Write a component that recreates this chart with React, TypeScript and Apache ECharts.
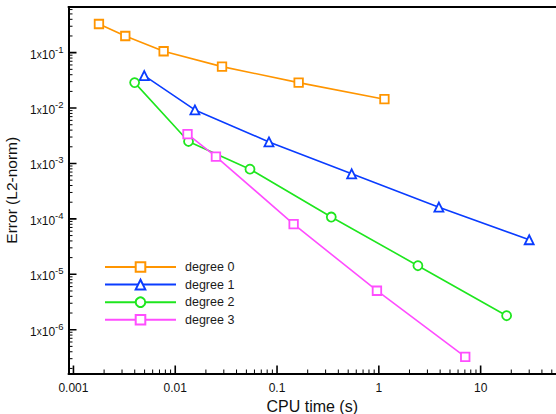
import React, { useEffect, useRef } from "react";
import * as echarts from "echarts";

// CPU time (s) and L2 error for each polynomial degree
const cpuDeg0 = [0.00178, 0.00323, 0.00769, 0.0288, 0.163, 1.135];
const errDeg0 = [0.329, 0.2, 0.106, 0.056, 0.0288, 0.01445];
const cpuDeg1 = [0.00496, 0.0156, 0.0833, 0.541, 3.89, 30.0];
const errDeg1 = [0.0385, 0.00927, 0.00245, 0.00065, 0.000163, 4.2e-5];
const cpuDeg2 = [0.00399, 0.0135, 0.0542, 0.341, 2.42, 18.0];
const errDeg2 = [0.0288, 0.0025, 0.00079, 0.000108, 1.43e-5, 1.79e-6];
const cpuDeg3 = [0.0132, 0.0251, 0.1455, 0.958, 7.06];
const errDeg3 = [0.00338, 0.00133, 8.05e-5, 5.05e-6, 3.22e-7];

const seriesNames = ["degree 0", "degree 1", "degree 2", "degree 3"];
const seriesColors = ["#ff9500", "#0a3cff", "#1ee61e", "#ff4dff"];
const seriesSymbols = ["rect", "triangle", "circle", "rect"];

// axis extents (decimal values)
const xMin = 0.000894;
const xMax = 55;
const yMin = 1.62e-7;
const yMax = 0.667;

const xTickValues = [0.001, 0.01, 0.1, 1, 10];
const xTickLabels = ["0.001", "0.01", "0.1", "1", "10"];
const yTickExponents = [-6, -5, -4, -3, -2, -1];

const lg = (v: number) => Math.log10(v);

function minorLogs(minV: number, maxV: number): number[] {
  const out: number[] = [];
  const lo = Math.floor(lg(minV)) - 1;
  const hi = Math.ceil(lg(maxV)) + 1;
  for (let k = lo; k <= hi; k++) {
    for (let m = 2; m <= 9; m++) {
      const l = Math.log10(m) + k;
      if (l > lg(minV) + 0.005 && l < lg(maxV) - 0.005) out.push(l);
    }
  }
  return out;
}

const GRID = { left: 68.5, right: 0, top: 7, bottom: 40.5 };
const W = 556;
const H = 414;

export default function App() {
  const ref = useRef<HTMLDivElement>(null);
  useEffect(() => {
    if (!ref.current) return;
    const chart = echarts.init(ref.current, null, { renderer: "svg" });
    const cpus = [cpuDeg0, cpuDeg1, cpuDeg2, cpuDeg3];
    const errs = [errDeg0, errDeg1, errDeg2, errDeg3];
    const font = "Liberation Sans, Arial, Helvetica, sans-serif";
    const xl = [lg(xMin), lg(xMax)];
    const yl = [lg(yMin), lg(yMax)];
    const xLabelMap: Record<string, string> = {};
    xTickValues.forEach((v, i) => (xLabelMap[lg(v).toFixed(3)] = xTickLabels[i]));
    const axisLineStyle = { color: "#000", width: 2 };

    // tick lengths (px) converted to data units of each axis
    const plotW = W - GRID.left - GRID.right;
    const plotH = H - GRID.top - GRID.bottom;
    const xPerPx = (xl[1] - xl[0]) / plotW;
    const yPerPx = (yl[1] - yl[0]) / plotH;
    const MAJOR = 8;
    const MINOR = 4;

    const xTickSegs = (vals: number[], len: number) => {
      const out: any[] = [];
      vals.forEach((v) => {
        out.push([v, yl[0]], [v, yl[0] + len * yPerPx], ["-", "-"]);
      });
      return out;
    };
    const yTickSegs = (vals: number[], len: number) => {
      const out: any[] = [];
      vals.forEach((v) => {
        out.push([xl[0], v], [xl[0] + len * xPerPx, v], ["-", "-"]);
      });
      return out;
    };
    const tickLine = (data: any[], width: number) => ({
      type: "line",
      xAxisIndex: 0,
      yAxisIndex: 0,
      data,
      symbol: "none",
      showSymbol: false,
      connectNulls: false,
      clip: false,
      silent: true,
      lineStyle: { color: "#000", width },
      emphasis: { disabled: true },
      z: 2,
    });

    chart.setOption({
      animation: false,
      grid: {
        ...GRID,
        containLabel: false,
        outerBoundsMode: "none",
      },
      legend: {
        left: 104,
        top: 260.5,
        padding: 0,
        orient: "vertical",
        itemWidth: 71,
        itemHeight: 12,
        itemGap: 4.6,
        data: seriesNames,
        textStyle: { fontFamily: font, fontSize: 12.5, color: "#1a1a1a", padding: [0, 0, 0, 4] },
      },
      xAxis: [
        {
          type: "value",
          min: xl[0],
          max: xl[1],
          position: "bottom",
          name: "CPU time (s)",
          nameLocation: "middle",
          nameGap: 23.5,
          nameTextStyle: { fontFamily: font, fontSize: 16, color: "#111" },
          axisLine: { show: true, onZero: false, lineStyle: axisLineStyle },
          axisTick: { show: false },
          axisLabel: {
            show: true,
            margin: 8,
            fontFamily: font,
            fontSize: 12,
            color: "#111",
            customValues: xTickValues.map(lg),
            formatter: (v: number) => xLabelMap[v.toFixed(3)] ?? "",
          },
          splitLine: { show: false },
        },
        {
          type: "value",
          min: xl[0],
          max: xl[1],
          position: "top",
          axisLine: { show: true, onZero: false, lineStyle: axisLineStyle },
          axisTick: { show: false },
          axisLabel: { show: false },
          splitLine: { show: false },
        },
      ],
      yAxis: [
        {
          type: "value",
          min: yl[0],
          max: yl[1],
          position: "left",
          name: "Error (L2-norm)",
          nameLocation: "middle",
          nameGap: 43,
          nameRotate: 90,
          nameTextStyle: { fontFamily: font, fontSize: 15.5, color: "#111" },
          axisLine: { show: true, onZero: false, lineStyle: axisLineStyle },
          axisTick: { show: false },
          axisLabel: {
            show: true,
            margin: 5,
            padding: [4, 0, 0, 0],
            customValues: yTickExponents,
            formatter: (v: number) => `{a|1}{x|x}{a|10}{s|${Math.round(v)}}`,
            rich: {
              a: { fontFamily: font, fontSize: 12, color: "#111" },
              x: { fontFamily: font, fontSize: 10, color: "#111" },
              s: { fontFamily: font, fontSize: 9.5, color: "#111", padding: [0, 0, 11, 0] },
            },
          },
          splitLine: { show: false },
        },
      ],
      series: [
        ...seriesNames.map((name, i) => ({
          name,
          type: "line",
          xAxisIndex: 0,
          yAxisIndex: 0,
          data: cpus[i].map((c, j) => [lg(c), lg(errs[i][j])]),
          symbol: seriesSymbols[i],
          symbolSize: seriesSymbols[i] === "rect" ? 8.5 : 9,
          showAllSymbol: true,
          lineStyle: { color: seriesColors[i], width: 1.6 },
          itemStyle: { color: "#fff", borderColor: seriesColors[i], borderWidth: 1.8 },
          emphasis: { disabled: true },
          z: 3 + i,
        })),
        tickLine(xTickSegs(xTickValues.map(lg), MAJOR), 1.6),
        tickLine(xTickSegs(minorLogs(xMin, xMax), MINOR), 1),
        tickLine(yTickSegs(yTickExponents, MAJOR), 1.6),
        tickLine(yTickSegs(minorLogs(yMin, yMax), MINOR), 1),
      ],
    });
    return () => chart.dispose();
  }, []);
  return (
    <div
      ref={ref}
      style={{ position: "fixed", left: 0, top: 0, width: W, height: H, background: "#fff" }}
    />
  );
}
